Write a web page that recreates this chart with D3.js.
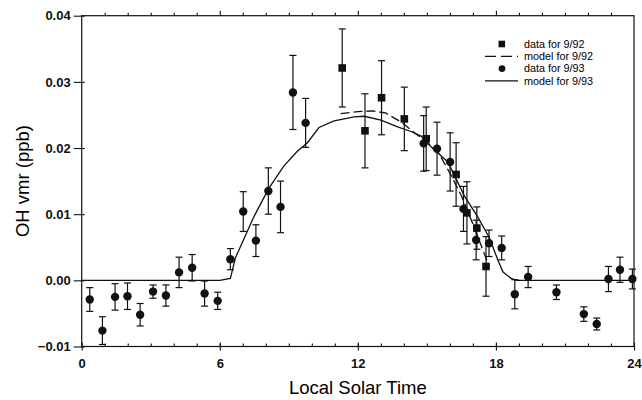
<!DOCTYPE html>
<html>
<head>
<meta charset="utf-8">
<script src="https://cdn.jsdelivr.net/npm/d3@7"></script>
<style>
  body { margin: 0; background: #fff; }
  svg { display: block; font-family: "Liberation Sans", Arial, sans-serif; }
  .axis-title { font-size: 18.5px; }
  .legend-text { font-size: 10.8px; }
</style>
</head>
<body>
<svg id="chart" width="642" height="400"></svg>
<script>

// data for 9/93 (circles)
const hours93 = [0.35, 0.90, 1.45, 1.99, 2.54, 3.10, 3.66, 4.23, 4.80, 5.34, 5.91, 6.46,
  7.02, 7.57, 8.11, 8.64, 9.18, 9.73, 14.86, 15.44, 16.01, 16.59, 17.14, 17.70, 18.25,
  18.82, 19.40, 20.63, 21.82, 22.38, 22.89, 23.39, 23.93];
const values93 = [-0.0029, -0.0076, -0.0025, -0.0024, -0.0052, -0.0017, -0.0023, 0.0012, 0.0019, -0.0020, -0.0031, 0.0032,
  0.0104, 0.0060, 0.0135, 0.0111, 0.0284, 0.0238, 0.0207, 0.0199, 0.0179, 0.0108, 0.0061, 0.0056, 0.0049,
  -0.0021, 0.0005, -0.0018, -0.0051, -0.0066, 0.0002, 0.0016, 0.0002];
const errors93 = [0.0018, 0.0021, 0.0020, 0.0020, 0.0017, 0.0010, 0.0016, 0.0023, 0.0020, 0.0019, 0.0013, 0.0016,
  0.0030, 0.0024, 0.0035, 0.0039, 0.0056, 0.0037, 0.0042, 0.0040, 0.0044, 0.0034, 0.0030, 0.0020, 0.0018,
  0.0022, 0.0016, 0.0011, 0.0011, 0.0009, 0.0019, 0.0019, 0.0015];

// data for 9/92 (squares)
const hours92 = [11.32, 12.31, 13.03, 14.02, 14.97, 16.27, 16.74, 17.17, 17.57];
const values92 = [0.0321, 0.0226, 0.0276, 0.0244, 0.0214, 0.0160, 0.0102, 0.0079, 0.0021];
const errors92 = [0.0059, 0.0056, 0.0056, 0.0048, 0.0048, 0.0048, 0.0047, 0.0032, 0.0045];

// model curves
const modelHours93 = [0, 6.0, 6.46, 6.68, 7.48, 8.13, 8.79, 9.37, 9.81, 10.31, 10.97, 11.84, 12.28, 13.00,
  13.73, 14.31, 14.75, 15.18, 15.91, 16.64, 17.21, 17.72, 18.08, 18.30, 18.66, 18.89, 24];
const modelValues93 = [0, 0, 0.0003, 0.0034, 0.0096, 0.0139, 0.0173, 0.0195, 0.0208, 0.0231, 0.0241, 0.0247, 0.0248, 0.0242,
  0.0232, 0.0225, 0.0218, 0.0202, 0.0179, 0.0127, 0.0096, 0.0064, 0.0031, 0.0013, 0.0003, 0, 0];
const modelHours92 = [11.25, 12.0, 12.65, 13.2, 13.9, 14.5, 15.0, 15.5, 16.0, 16.5, 17.0, 17.5, 17.7];
const modelValues92 = [0.0252, 0.0255, 0.0256, 0.0253, 0.0239, 0.0222, 0.0209, 0.0193, 0.0162, 0.0128, 0.0085, 0.0040, 0.0020];

const xTicks = [0, 6, 12, 18, 24];
const yTicks = [-0.01, 0.00, 0.01, 0.02, 0.03, 0.04];
const legendLabels = ["data for 9/92", "model for 9/92", "data for 9/93", "model for 9/93"];

const margin = { top: 15.7, right: 8, bottom: 53.5, left: 81.7 };
const width = 642, height = 400;
const innerWidth = width - margin.left - margin.right;
const innerHeight = height - margin.top - margin.bottom;

const svg = d3.select("#chart");
const g = svg.append("g").attr("transform", `translate(${margin.left},${margin.top})`);

const xScale = d3.scaleLinear().domain([0, 24]).range([0, innerWidth]);
const yScale = d3.scaleLinear().domain([-0.01, 0.04]).range([innerHeight, 0]);

// frame
g.append("rect")
  .attr("width", innerWidth)
  .attr("height", innerHeight)
  .attr("fill", "none")
  .attr("stroke", "#111")
  .attr("stroke-width", 1.2);

const hourTicks = d3.range(1, 24);

// bottom ticks: minor inward, major crossing
g.append("g")
  .attr("transform", `translate(0,${innerHeight})`)
  .call(d3.axisBottom(xScale).tickValues(hourTicks).tickSize(-3).tickFormat(""))
  .call(a => a.select(".domain").remove());
g.append("g")
  .attr("transform", `translate(0,${innerHeight})`)
  .call(d3.axisBottom(xScale).tickValues(xTicks).tickSize(4).tickPadding(8).tickFormat(d3.format("d")))
  .call(a => a.select(".domain").remove())
  .call(a => a.selectAll("line").attr("y1", -4));

// top ticks pointing outward
g.append("g")
  .call(d3.axisTop(xScale).tickValues(hourTicks).tickSize(3).tickFormat(""))
  .call(a => a.select(".domain").remove())
  .call(a => a.selectAll("line").attr("y2", d => d % 6 === 0 ? -5 : -3));

// left ticks crossing
g.append("g")
  .call(d3.axisLeft(yScale).tickValues(yTicks).tickSize(8).tickPadding(3).tickFormat(d3.format(".2f")))
  .call(a => a.select(".domain").remove())
  .call(a => a.selectAll("line").attr("x1", 3));

g.selectAll(".tick line").attr("stroke", "#111").attr("stroke-width", 1.1);
g.selectAll(".tick text")
  .attr("fill", "#111")
  .style("font-family", "'Liberation Sans', Arial, sans-serif")
  .style("font-size", "13px")
  .style("font-weight", "bold");

// axis titles
svg.append("text")
  .attr("class", "axis-title")
  .attr("x", margin.left + innerWidth / 2)
  .attr("y", 394)
  .attr("text-anchor", "middle")
  .text("Local Solar Time");

svg.append("text")
  .attr("class", "axis-title")
  .attr("transform", `translate(29,${margin.top + innerHeight / 2}) rotate(-90)`)
  .attr("text-anchor", "middle")
  .text("OH vmr (ppb)");

// model lines
const line = d3.line()
  .x(d => xScale(d[0]))
  .y(d => yScale(d[1]));

g.append("path")
  .datum(modelHours93.map((h, i) => [h, modelValues93[i]]))
  .attr("d", line)
  .attr("fill", "none")
  .attr("stroke", "#111")
  .attr("stroke-width", 1.3);

g.append("path")
  .datum(modelHours92.map((h, i) => [h, modelValues92[i]]))
  .attr("d", line)
  .attr("fill", "none")
  .attr("stroke", "#111")
  .attr("stroke-width", 1.3)
  .attr("stroke-dasharray", "9,4");

// error bars
const drawErrors = (hours, values, errors, cls) => {
  const data = hours.map((h, i) => ({ h, v: values[i], e: errors[i] }));
  const bars = g.selectAll(`.err-${cls}`)
    .data(data)
    .join("g")
      .attr("class", `err-${cls}`)
      .attr("stroke", "#111")
      .attr("stroke-width", 1.2);
  bars.append("line")
    .attr("x1", d => xScale(d.h)).attr("x2", d => xScale(d.h))
    .attr("y1", d => yScale(d.v - d.e)).attr("y2", d => yScale(d.v + d.e));
  bars.append("line")
    .attr("x1", d => xScale(d.h) - 3.5).attr("x2", d => xScale(d.h) + 3.5)
    .attr("y1", d => yScale(d.v + d.e)).attr("y2", d => yScale(d.v + d.e));
  bars.append("line")
    .attr("x1", d => xScale(d.h) - 3.5).attr("x2", d => xScale(d.h) + 3.5)
    .attr("y1", d => yScale(d.v - d.e)).attr("y2", d => yScale(d.v - d.e));
  return data;
};

const data93 = drawErrors(hours93, values93, errors93, "93");
const data92 = drawErrors(hours92, values92, errors92, "92");

g.selectAll(".pt93")
  .data(data93)
  .join("circle")
    .attr("class", "pt93")
    .attr("cx", d => xScale(d.h))
    .attr("cy", d => yScale(d.v))
    .attr("r", 4.2)
    .attr("fill", "#111");

g.selectAll(".pt92")
  .data(data92)
  .join("rect")
    .attr("class", "pt92")
    .attr("x", d => xScale(d.h) - 3.8)
    .attr("y", d => yScale(d.v) - 3.8)
    .attr("width", 7.6)
    .attr("height", 7.6)
    .attr("fill", "#111");

// legend
const legend = svg.append("g").attr("transform", "translate(485,44)");
const rowGap = 12.3;
legend.selectAll(".legend-text")
  .data(legendLabels)
  .join("text")
    .attr("class", "legend-text")
    .attr("x", 39)
    .attr("y", (d, i) => i * rowGap)
    .attr("dy", "0.35em")
    .text(d => d);

legend.append("rect").attr("x", 13.5).attr("y", -3.3).attr("width", 6.6).attr("height", 6.6).attr("fill", "#111");
legend.append("line").attr("x1", 0).attr("x2", 33).attr("y1", rowGap).attr("y2", rowGap)
  .attr("stroke", "#111").attr("stroke-width", 1.2).attr("stroke-dasharray", "11,5");
legend.append("circle").attr("cx", 17).attr("cy", 2 * rowGap).attr("r", 3.4).attr("fill", "#111");
legend.append("line").attr("x1", 0).attr("x2", 33).attr("y1", 3 * rowGap).attr("y2", 3 * rowGap)
  .attr("stroke", "#111").attr("stroke-width", 1.2);

</script>
</body>
</html>
